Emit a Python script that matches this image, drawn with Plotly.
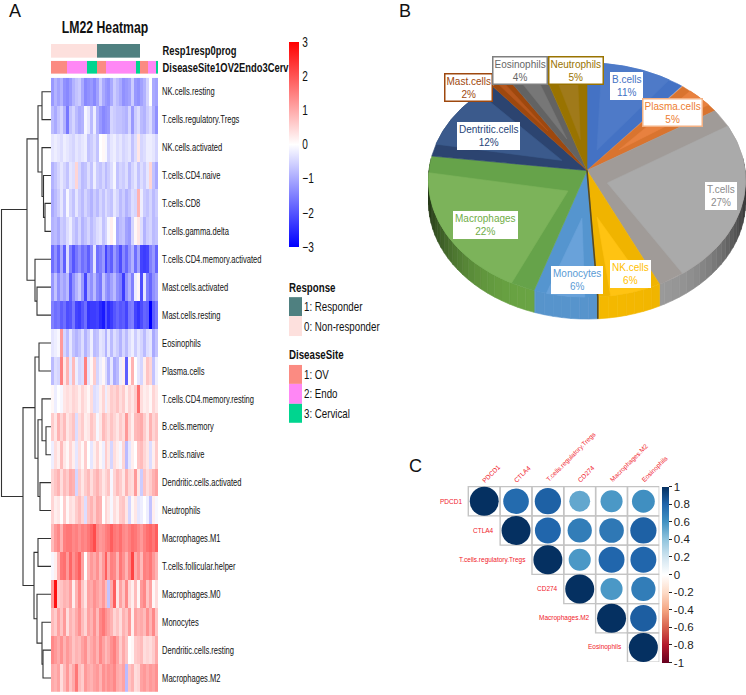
import numpy as np
import plotly.graph_objects as go

W, H = 746, 695
CONDENSED = "Liberation Sans, Arial, sans-serif"
SANS = "Arial, Liberation Sans"

# ---------- Panel A data ----------
row_names = ["NK.cells.resting", "T.cells.regulatory.Tregs", "NK.cells.activated", "T.cells.CD4.naive",
             "T.cells.CD8", "T.cells.gamma.delta", "T.cells.CD4.memory.activated", "Mast.cells.activated",
             "Mast.cells.resting", "Eosinophils", "Plasma.cells", "T.cells.CD4.memory.resting",
             "B.cells.memory", "B.cells.naive", "Dendritic.cells.activated", "Neutrophils",
             "Macrophages.M1", "T.cells.follicular.helper", "Macrophages.M0", "Monocytes",
             "Dendritic.cells.resting", "Macrophages.M2"]
nk_resting = [-1.2,-0.9,-1.1,-0.9,-1.3,-1.4,-1.2,-0.9,-0.7,-0.6,-1.0,-1.4,-1.3,-1.2,-1.4,-1.1,-0.6,-1.0,-1.2,-1.3,-1.0,-0.6,-0.8,-1.0,-1.3,-1.2,-1.1,-0.6,-1.2,-1.3,-1.1,-0.9,-0.5,0.0,-1.0,-1.1]
tregs = [-0.8,-1.0,-0.7,-0.5,-0.9,-1.6,-0.7,-0.5,-0.8,-1.0,-0.9,-0.1,-0.3,-0.8,-0.2,-0.9,-1.2,-1.4,-1.3,-1.2,-0.5,-0.6,-0.7,-0.7,-0.8,-0.9,-0.5,-1.2,-0.6,-0.4,-0.8,-0.9,-0.6,-0.4,-0.9,-1.3]
nk_activated = [-0.3,-0.2,-0.3,-0.4,-0.2,-0.3,-0.4,-0.5,-0.3,-0.4,-0.3,-0.2,-0.7,-0.6,-0.4,-0.7,0.0,0.1,-0.1,-0.5,-0.3,-0.2,-0.4,-0.3,-0.5,-0.4,-0.3,-0.7,-0.4,0.3,-0.5,-0.4,-0.2,-0.2,-0.3,-0.5]
cd4_naive = [-0.9,-0.7,-0.5,-0.3,-0.5,-0.7,-0.3,-0.4,0.5,-0.5,-0.8,-0.7,-0.4,-0.7,-0.2,-0.6,-0.7,-0.5,-0.8,-0.6,-0.4,-0.1,-0.7,-0.5,-0.6,-0.4,-0.8,-0.5,-0.3,-0.7,-0.4,-0.6,-0.3,0.5,-0.7,-1.0]
cd8 = [-1.0,-0.8,-0.6,-0.3,-0.7,-0.1,-0.5,-0.7,-0.3,-0.6,-0.8,-0.5,-0.7,-0.9,-0.6,-0.8,-0.5,-0.7,-0.4,-0.6,-0.7,-0.3,-0.5,-0.8,-0.6,-0.9,-0.7,-0.4,-0.5,0.9,-0.2,-0.6,-0.7,-0.5,-0.8,-0.6]
gamma_delta = [-0.9,-0.8,-1.0,-0.6,-0.7,-0.4,-0.2,-0.6,-0.8,-0.5,-0.9,-0.7,-0.5,-0.8,-0.6,-0.4,-0.3,-0.7,-0.5,-0.1,0.2,0.0,-1.0,-0.8,-0.7,-1.1,-1.2,-0.5,0.1,0.3,-0.4,-0.9,-0.6,-0.5,-0.8,-0.7]
cd4_mem_act = [-1.7,-1.3,-1.8,-1.0,-1.9,-0.4,-1.5,-2.0,-1.6,-1.3,-1.7,-1.5,-1.9,-1.4,-0.3,-1.7,-1.5,-1.2,-2.2,-1.6,-1.9,-1.2,-1.6,-2.1,-1.4,-1.8,-1.3,-0.9,-1.7,-1.1,-2.2,-2.3,-2.2,-1.5,-1.2,-1.8]
mast_act = [-1.2,-0.7,-1.3,-0.9,-1.1,-0.8,-1.9,-1.3,-0.9,-0.6,-1.2,-2.2,-1.0,-1.3,-0.8,-1.4,-1.6,-0.7,-1.2,-1.4,-1.1,-0.8,-1.3,-1.5,-2.3,-1.3,-0.9,-1.5,-0.2,0.1,-2.1,-0.3,-1.5,-1.8,-1.3,-1.1]
mast_rest = [-1.5,-1.7,-1.6,-1.9,-1.7,-2.1,-2.0,-1.6,-2.2,-2.3,-2.0,-1.7,-2.4,-2.3,-2.3,-2.2,-2.5,-2.7,-2.0,-2.5,-2.3,-2.0,-1.8,-2.0,-1.9,-2.2,-1.6,-1.5,-2.2,-2.4,-2.1,-1.8,-1.9,-3.0,-1.9,-1.6]
eosinophils = [-0.3,-0.2,-0.1,1.2,-0.5,-0.8,-0.3,-0.7,-0.9,-0.7,-0.4,-0.9,-0.6,-0.2,-0.8,-0.7,-0.3,-0.4,-0.9,-0.3,-0.8,-0.4,-0.6,-0.9,-0.5,-0.8,-0.4,-0.2,-0.6,-0.3,-0.5,-0.8,-0.4,-0.3,-1.0,-0.7]
plasma = [-0.8,-0.4,-0.5,1.5,0.3,0.9,-0.3,0.8,-0.2,-0.5,-0.4,1.5,-0.3,0.1,0.6,-0.5,-0.2,0.1,-0.4,-0.9,-0.3,-1.0,-0.8,-0.2,0.2,-1.9,0.1,0.9,0.0,-0.3,-0.5,0.2,0.7,0.5,-0.7,-0.2]
cd4_mem_rest = [0.1,-0.2,0.0,-0.1,0.3,0.4,0.3,0.5,0.4,0.2,0.5,0.3,0.1,0.4,-0.4,-0.3,0.2,0.5,-0.2,0.3,0.6,0.5,0.7,0.4,0.6,0.2,0.5,0.3,0.6,1.7,0.4,0.2,0.3,0.1,0.5,0.3]
b_memory = [0.6,0.3,0.9,0.5,0.8,0.3,0.5,0.7,-0.4,0.4,0.6,0.2,0.3,0.7,0.5,-0.1,0.3,0.8,0.6,0.4,0.7,0.5,0.3,0.6,0.4,1.2,0.5,0.2,0.8,0.9,1.0,0.6,0.3,0.9,0.5,0.7]
b_naive = [-0.2,0.4,0.2,0.8,0.3,0.1,0.5,0.2,-0.3,0.4,0.1,0.6,0.0,-0.3,0.2,0.5,0.1,-0.2,0.6,0.3,-0.5,0.4,0.2,-0.1,0.5,-0.8,-0.3,0.2,0.0,0.7,0.8,0.5,0.3,-0.4,0.2,0.6]
dc_activated = [0.5,0.7,0.9,0.4,0.8,0.6,1.0,0.9,-0.5,0.6,0.3,0.6,0.8,0.4,0.7,0.9,0.6,0.3,0.5,0.7,-0.1,0.5,0.8,0.6,0.3,0.9,0.5,0.4,1.2,0.3,-0.6,0.7,0.4,0.6,0.9,1.1]
neutrophils = [0.5,0.2,0.3,0.0,0.6,0.1,0.4,0.3,0.6,0.8,0.5,-0.4,0.7,0.9,0.6,1.0,0.9,0.0,0.5,0.3,-0.1,0.4,0.2,0.6,0.7,0.3,-0.5,0.1,0.3,-0.3,-0.2,0.0,-0.2,-0.7,0.2,-0.1]
macro_m1 = [0.8,1.2,1.4,0.9,1.5,1.6,1.6,1.4,1.5,1.3,1.5,1.4,1.6,1.8,2.1,1.4,1.2,1.3,1.5,1.6,1.9,1.6,1.5,1.7,1.4,1.3,1.5,1.7,1.6,1.4,1.2,1.5,1.7,1.8,1.6,1.9]
tfh = [-0.1,0.2,0.9,1.6,1.7,1.2,1.8,1.3,1.6,1.9,1.1,0.0,0.9,1.2,1.0,1.3,0.8,1.2,1.9,1.0,1.5,1.4,0.9,1.6,1.3,0.9,1.4,2.2,1.0,1.3,0.8,1.5,1.4,1.6,1.2,0.9]
macro_m0 = [1.2,2.8,0.6,0.7,0.9,0.8,1.1,0.2,0.9,1.4,0.7,0.3,1.1,1.0,1.3,1.1,0.9,1.2,0.8,-0.7,1.0,1.9,0.3,1.1,0.7,1.4,0.5,0.2,0.8,0.1,1.2,1.4,0.7,1.1,0.1,0.4]
monocytes = [0.8,0.6,1.1,0.7,1.2,0.4,0.9,0.7,1.0,1.3,0.8,0.5,1.1,0.9,1.3,0.8,1.4,1.6,1.3,1.1,0.9,0.5,0.7,0.4,0.9,0.7,1.2,0.2,1.1,0.9,1.0,0.8,1.3,0.9,1.4,0.7]
dc_resting = [1.4,1.2,1.0,1.3,0.9,1.2,1.0,0.7,0.9,0.8,1.1,1.3,0.8,1.0,1.2,0.9,1.4,1.1,0.8,1.0,1.3,1.5,1.1,0.6,1.0,0.7,0.0,0.1,0.6,0.7,0.8,0.4,0.5,0.4,0.6,1.0]
macro_m2 = [1.0,0.9,1.1,0.4,0.8,1.2,0.7,1.0,1.6,0.8,0.6,1.2,1.0,0.9,1.1,1.2,0.9,1.3,1.1,1.3,1.2,1.4,1.0,0.9,1.1,-0.8,0.7,0.9,0.4,0.5,1.1,1.2,1.0,1.2,1.1,1.3]
heat_rows = [nk_resting, tregs, nk_activated, cd4_naive, cd8, gamma_delta, cd4_mem_act, mast_act, mast_rest,
             eosinophils, plasma, cd4_mem_rest, b_memory, b_naive, dc_activated, neutrophils, macro_m1, tfh,
             macro_m0, monocytes, dc_resting, macro_m2]

# annotation tracks: run lengths over the samples (value, sample count)
response_runs = [(0, 23), (1, 22), (None, 9)]
site_runs = [(1, 8), (2, 10), (3, 5), (1, 5), (2, 15), (3, 2), (1, 4), (2, 4), (3, 1)]

# dendrogram merges (left, right, merge height); ids above 21 are earlier merges
merges = [(0,1,9),(4,5,6),(3,23,7.5),(2,24,9),(22,25,13),(7,8,14),(6,27,16),(26,28,24),
          (9,10,12),(12,13,5),(11,31,9),(14,15,11),(32,33,13),(30,34,16),(16,17,13),(20,21,8),
          (19,37,9),(18,38,14),(36,39,17),(35,40,28),(29,41,49.5)]

# ---------- Panel B data ----------
pie_labels = ["B.cells", "Plasma.cells", "T.cells", "NK.cells", "Monocytes", "Macrophages",
              "Dentritic.cells", "Mast.cells", "Eosinophils", "Neutrophils"]
pie_shares = [11, 5, 27, 6, 6, 22, 12, 2, 4, 5]
pie_colors = ["#4472c4", "#ed7d31", "#a5a5a5", "#ffc000", "#5b9bd5", "#70ad47", "#264478", "#9e480e", "#636363", "#997300"]
pie_dark = ["#4472c4", "#d9742f", "#a09b98", "#f0b400", "#5595cf", "#66a34a", "#2c4470", "#9e480e", "#636363", "#997300"]
pie_light = ["#4e7ac8", "#e8813f", "#aaaaaa", "#ffc312", "#69a2da", "#7cb35a", "#3b5a8c", "#b5561c", "#777777", "#a07a1a"]
pie_label_xy = [(626,85),(672,112),(721,196),(630,274),(577,280),(485,225),(488,135),(468,87),(520,70),(576,70)]
pie_label_border = ["#ffffff","#f4b183","#ffffff","#ffffff","#ffffff","#ffffff","#ffffff","#9e480e","#7f7f7f","#997300"]

# ---------- Panel C data ----------
corr_names = ["PDCD1", "CTLA4", "T.cells.regulatory.Tregs", "CD274", "Macrophages.M2", "Eosinophils"]
corr_row0 = [1, .78, .82, .52, .58, .62]
corr_row1 = [1, .8, .7, .72, .82]
corr_row2 = [1, .58, .8, .8]
corr_row3 = [1, .58, .7]
corr_row4 = [1, .83]
corr_row5 = [1]
corr_rows = [corr_row0, corr_row1, corr_row2, corr_row3, corr_row4, corr_row5]


def dom_x(a, b): return [a / W, b / W]
def dom_y(a, b): return [1 - b / H, 1 - a / H]
def rgb(h): return np.array([int(h[i:i+2], 16) for i in (1, 3, 5)], float)
def mix(h, other, f):
    c = rgb(h) * (1 - f) + rgb(other) * f
    return "rgb(%d,%d,%d)" % tuple(c)

fig = go.Figure()
shapes, annos = [], []

# ---------- Panel A ----------
N_ROWS = len(heat_rows)
fig.add_trace(go.Heatmap(
    z=np.array(heat_rows, float), x=list(range(len(nk_resting))), y=row_names, xaxis="x2", yaxis="y2",
    zmin=-3, zmax=3, colorscale=[[0, "#0000ff"], [.5, "#ffffff"], [1, "#ff0000"]], hoverongaps=False,
    colorbar=dict(x=289 / W, xanchor="left", y=1 - 41 / H, yanchor="top", lenmode="pixels", len=205,
                  thickness=10, thicknessmode="pixels", xpad=0, ypad=0, outlinewidth=0,
                  tickmode="array", tickvals=[-3, -2, -1, 0, 1, 2, 3], ticks="", ticklabelposition="outside",
                  tickfont=dict(family=CONDENSED, size=14, color="#111"))))

resp = np.repeat([np.nan if v is None else v for v, _ in response_runs], [n for _, n in response_runs])
site = np.repeat([v for v, _ in site_runs], [n for _, n in site_runs])
fig.add_trace(go.Heatmap(z=[resp], y=["<b>Resp1resp0prog</b>"], xaxis="x3", yaxis="y3", zmin=0, zmax=1, showscale=False,
                         colorscale=[[0, "#fde0dd"], [.5, "#fde0dd"], [.5, "#4f8080"], [1, "#4f8080"]]))
fig.add_trace(go.Heatmap(z=[site], y=["<b>DiseaseSite1OV2Endo3Cerv</b>"], xaxis="x4", yaxis="y4", zmin=1, zmax=3, showscale=False,
                         colorscale=[[0, "#fb8b82"], [1/3, "#fb8b82"], [1/3, "#ff87f5"], [2/3, "#ff87f5"], [2/3, "#00d58f"], [1, "#00d58f"]]))

ROW0, ROWH, DEND_RIGHT = 91, 28, 51
nodes = {i: (DEND_RIGHT, ROW0 + ROWH * i) for i in range(N_ROWS)}
dx, dy = [], []
for k, (a, b, h) in enumerate(merges):
    xa, ya = nodes[a]; xb, yb = nodes[b]
    xn = DEND_RIGHT - h
    dx += [xa, xn, xn, xb, None]; dy += [ya, ya, yb, yb, None]
    nodes[N_ROWS + k] = (xn, (ya + yb) / 2)
fig.add_trace(go.Scatter(x=dx, y=dy, mode="lines", line=dict(color="#333333", width=1.1), hoverinfo="skip"))

def text(x, y, s, size=12, family=CONDENSED, color="#111", xanchor="left", **kw):
    annos.append(dict(x=x / W, y=1 - y / H, xref="paper", yref="paper", text=s, showarrow=False, xanchor=xanchor,
                      yanchor="middle", font=dict(family=family, size=size, color=color), **kw))

def box(x0, y0, x1, y1, color):
    shapes.append(dict(type="rect", xref="paper", yref="paper", x0=x0 / W, x1=x1 / W, y0=1 - y0 / H, y1=1 - y1 / H,
                       fillcolor=color, line=dict(width=0)))

text(15, 10.5, "A", 18, SANS, xanchor="center")
text(405, 10.5, "B", 18, SANS, xanchor="center")
text(415, 466, "C", 18, SANS, xanchor="center")
text(105, 27, "<b>LM22 Heatmap</b>", 17, xanchor="center")
text(287, 287, "<b>Response</b>", 13.5)
box(289, 297, 302, 316, "#4f8080"); text(302, 306.5, "1: Responder", 13.5)
box(289, 316, 302, 336, "#fde0dd"); text(302, 326, "0: Non-responder", 13.5)
text(287, 355, "<b>DiseaseSite</b>", 13.5)
box(289, 365, 302, 384, "#fb8b82"); text(302, 374.5, "1: OV", 13.5)
box(289, 384, 302, 404, "#ff87f5"); text(302, 394, "2: Endo", 13.5)
box(289, 404, 302, 423, "#00d58f"); text(302, 413.5, "3: Cervical", 13.5)

# ---------- Panel B: perspective pie computed from the shares ----------
CX, CY, RX, RY, K, WALL = 587, 170, 158, 116.7, 0.081, 22

def project(t_deg, r=1.0, drop=0.0):
    t = np.radians(t_deg)
    u, v = r * np.sin(t), r * np.cos(t)
    d = 1 + K * v
    return CX + RX * u / d, CY - RY * v / d + drop

def plane(u, v):
    d = 1 + K * v
    return CX + RX * u / d, CY - RY * v / d

def poly(px, py, color, width=0.6):
    fig.add_trace(go.Scatter(x=list(px), y=list(py), mode="lines", fill="toself", fillcolor=color,
                             line=dict(color=color, width=width), hoverinfo="skip"))

edges = np.cumsum([0] + pie_shares) * 3.6
for i, col in enumerate(pie_colors):
    a0, a1 = edges[i], edges[i + 1]
    if a1 <= 84 or a0 >= 276:
        continue
    ts = np.arange(max(a0, 84), min(a1, 276) + 3, 3.0)
    ts[-1] = min(a1, 276)
    for t0, t1 in zip(ts[:-1], ts[1:]):
        if t1 <= t0:
            continue
        s = abs(np.sin(np.radians((t0 + t1) / 2)))
        shade = 0.04 + 0.66 * s ** 4
        x0, y0 = project(t0); x1, y1 = project(t1)
        x2, y2 = project(t1, drop=WALL); x3, y3 = project(t0, drop=WALL)
        poly([x0, x1, x2, x3, x0], [y0, y1, y2, y3, y0], mix(col, "#000000", shade))
for i, (share, dark, light) in enumerate(zip(pie_shares, pie_dark, pie_light)):
    a0, a1 = edges[i], edges[i + 1]
    ts = np.linspace(a0, a1, 60)
    xs, ys = project(ts)
    poly([CX, *xs, CX], [CY, *ys, CY], dark)
    half = np.radians((a1 - a0) / 2)
    e = 0.1 * np.sqrt(share / 27)
    delta = 1.6 * np.degrees(np.arcsin(e))
    if a1 - a0 > 2 * delta + 2:
        mid = np.radians((a0 + a1) / 2)
        ap = e / np.sin(half)
        ax, ay = plane(ap * np.sin(mid), ap * np.cos(mid))
        ay += 14 * max(0.0, 0.3 - np.cos(mid))
        ts = np.linspace(a0 + delta, a1 - delta, 50)
        xs, ys = project(ts)
        poly([ax, *xs, ax], [ay, *ys, ay], light)
gap = edges[4]
xa, ya = project(gap); xb, yb = project(gap, drop=WALL)
fig.add_trace(go.Scatter(x=[CX, xa, xb], y=[CY, ya, yb], mode="lines", line=dict(color="#5c4a1a", width=1.6), hoverinfo="skip"))

for lab, share, col, (lx, ly), bc in zip(pie_labels, pie_shares, pie_colors, pie_label_xy, pie_label_border):
    tcol = col if lab not in ("T.cells", "Eosinophils") else "#8c8c8c" if lab == "T.cells" else "#666666"
    annos.append(dict(x=lx, y=ly, xref="x", yref="y", text=f"{lab}<br>{share}%", showarrow=False, bgcolor="#ffffff",
                      bordercolor=bc, borderwidth=1.5 if bc != "#ffffff" else 1, borderpad=1,
                      font=dict(family=SANS, size=10, color=tcol)))

# ---------- Panel C ----------
cx_, cy_, cv_ = [], [], []
for r, vals in enumerate(corr_rows):
    for off, val in enumerate(vals):
        c = r + off
        cx_.append(c); cy_.append(r); cv_.append(val)
        shapes.append(dict(type="rect", xref="x5", yref="y5", x0=c - .5, x1=c + .5, y0=r - .5, y1=r + .5,
                           line=dict(color="#c4c4c4", width=1.4), fillcolor="rgba(0,0,0,0)", layer="below"))
    annos.append(dict(x=r - .62, y=r, xref="x5", yref="y5", text=corr_names[r], showarrow=False, xanchor="right",
                      font=dict(family=SANS, size=6.5, color="#f0202a")))
    annos.append(dict(x=r - .19, y=-.5, xref="x5", yref="y5", text=corr_names[r], showarrow=False, xanchor="left",
                      yanchor="bottom", textangle=-45, font=dict(family=SANS, size=6.5, color="#f0202a")))
corr_ticks = [1, .8, .6, .4, .2, 0, -.2, -.4, -.6, -.8, -1]
fig.add_trace(go.Scatter(
    x=cx_, y=cy_, xaxis="x5", yaxis="y5", mode="markers", hoverinfo="skip",
    marker=dict(size=list(29 * np.sqrt(np.abs(cv_))), color=cv_, cmin=-1, cmax=1, opacity=1, line=dict(width=0),
                colorscale=[[0, "#67001f"], [.1, "#b2182b"], [.2, "#d6604d"], [.3, "#f4a582"], [.4, "#fddbc7"], [.5, "#ffffff"],
                            [.6, "#d1e5f0"], [.7, "#92c5de"], [.8, "#4393c3"], [.9, "#2166ac"], [1, "#053061"]],
                colorbar=dict(x=662 / W, xanchor="left", y=1 - 487 / H, yanchor="top", lenmode="pixels", len=176,
                              thickness=7, thicknessmode="pixels", xpad=0, ypad=0, outlinewidth=0,
                              tickmode="array", tickvals=corr_ticks, ticktext=[f"{v:g}" for v in corr_ticks],
                              ticks="outside", ticklen=3, tickwidth=1, tickcolor="#222",
                              tickfont=dict(family=SANS, size=11.5, color="#222")))))

CELL_W, CELL_H = 191 / 6, 176 / 6
off = dict(visible=False, showgrid=False, zeroline=False)
hidden_tick = dict(ticks="outside", ticklen=1, tickcolor="rgba(0,0,0,0)")
fig.update_layout(
    width=W, height=H, margin=dict(l=0, r=0, t=0, b=0), paper_bgcolor="#fff", plot_bgcolor="rgba(0,0,0,0)",
    showlegend=False, shapes=shapes, annotations=annos,
    xaxis=dict(domain=[0, 1], range=[0, W], anchor="y", **off),
    yaxis=dict(domain=[0, 1], range=[H, 0], anchor="x", **off),
    xaxis2=dict(domain=dom_x(51, 158), anchor="y2", **off),
    yaxis2=dict(domain=dom_y(77, 693), anchor="x2", side="right", autorange="reversed", showgrid=False, zeroline=False,
                tickmode="array", tickvals=row_names, tickfont=dict(family=CONDENSED, size=10.5, color="#111"),
                showline=False, **hidden_tick),
    xaxis3=dict(domain=dom_x(51, 158), anchor="y3", **off),
    yaxis3=dict(domain=dom_y(43, 57), anchor="x3", side="right", showgrid=False, zeroline=False,
                tickfont=dict(family=CONDENSED, size=13, color="#111"), **hidden_tick),
    xaxis4=dict(domain=dom_x(51, 158), anchor="y4", **off),
    yaxis4=dict(domain=dom_y(60, 73), anchor="x4", side="right", showgrid=False, zeroline=False,
                tickfont=dict(family=CONDENSED, size=13, color="#111"), **hidden_tick),
    xaxis5=dict(domain=dom_x(420, 659.3), range=[-.5 - 48.3 / CELL_W, 5.5], anchor="y5", **off),
    yaxis5=dict(domain=dom_y(420, 663), range=[5.5, -.5 - 67 / CELL_H], anchor="x5", **off),
)
# the left panel was set in a horizontally condensed face: squeeze those labels the same way,
# keeping the left edge of annotations that are anchored left (all but the centred title)
squeeze = """
document.body.style.margin='0';
var gd=document.querySelector('.plotly-graph-div');
gd.querySelectorAll('text').forEach(function(t){
  var f=t.style.fontFamily||'';
  if(f.indexOf('sans-serif')<0) return;
  var n=t.getComputedTextLength();
  if(n>0){
    t.setAttribute('textLength',(n*0.72).toFixed(1));
    t.setAttribute('lengthAdjust','spacingAndGlyphs');
    if(t.classList.contains('annotation-text') && (t.textContent||'').indexOf('LM22')<0){
      t.setAttribute('x',parseFloat(t.getAttribute('x')||0)-n*0.14);
    }
  }
});
"""
fig.write_html("out.html", config={"displayModeBar": False}, post_script=squeeze)
